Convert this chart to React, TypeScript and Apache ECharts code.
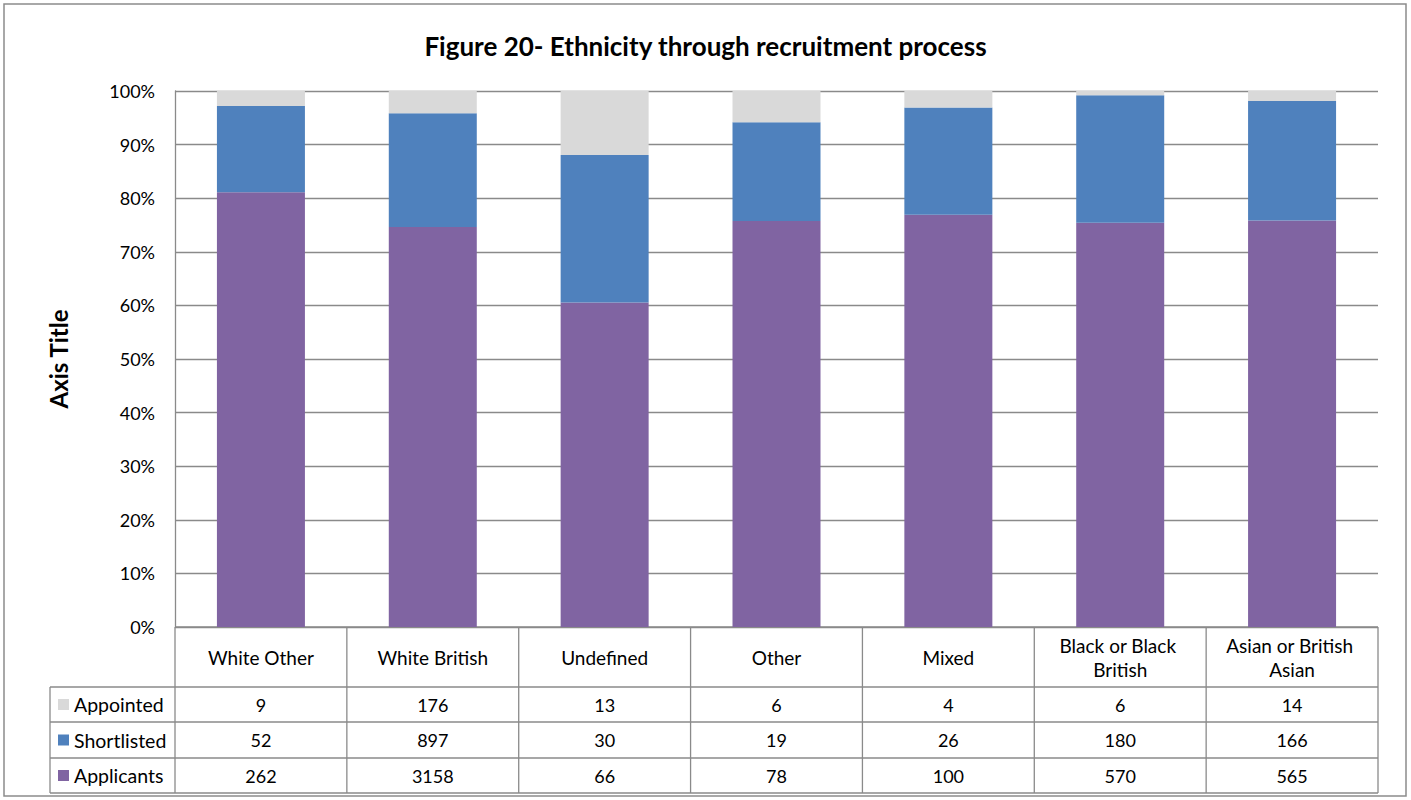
import React, { useEffect, useRef } from "react";
import * as echarts from "echarts";

const categories = [
  "White Other",
  "White British",
  "Undefined",
  "Other",
  "Mixed",
  "Black or Black British",
  "Asian or British Asian",
];
const appointed = [9, 176, 13, 6, 4, 6, 14];
const shortlisted = [52, 897, 30, 19, 26, 180, 166];
const applicants = [262, 3158, 66, 78, 100, 570, 565];

const rowNames = ["Appointed", "Shortlisted", "Applicants"];
const rowColors = ["#D9D9D9", "#4F81BD", "#8064A2"];

const W = 1411;
const H = 800;
const FONT = 'Lato, "Open Sans", sans-serif';

export default function App() {
  const ref = useRef<HTMLDivElement>(null);

  useEffect(() => {
    if (!ref.current) return;
    const chart = echarts.init(ref.current, undefined, { renderer: "svg" });

    const totals = categories.map((_, i) => appointed[i] + shortlisted[i] + applicants[i]);
    const pct = (arr: number[]) => arr.map((v, i) => (v / totals[i]) * 100);

    const gL = 175, gR = 1378, gT = 91, gB = 627;
    const tL = 50;
    const rowLines = [687, 722, 758, 793];
    const catW = (gR - gL) / categories.length;
    const lineColor = "#8A8A8A";

    const rowData = [appointed, shortlisted, applicants];

    const graphics: any[] = [];
    graphics.push({
      type: "rect",
      shape: { x: 4, y: 4, width: W - 9, height: H - 8 },
      style: { fill: "none", stroke: "#8C8C8C", lineWidth: 1.5 },
      silent: true,
    });
    graphics.push({
      type: "line",
      shape: { x1: gL, y1: gB, x2: gR, y2: gB },
      style: { stroke: lineColor, lineWidth: 1.3 },
    });
    rowLines.forEach((y) => {
      graphics.push({
        type: "line",
        shape: { x1: tL, y1: y, x2: gR, y2: y },
        style: { stroke: lineColor, lineWidth: 1.3 },
      });
    });
    graphics.push({
      type: "line",
      shape: { x1: tL, y1: rowLines[0], x2: tL, y2: rowLines[3] },
      style: { stroke: lineColor, lineWidth: 1.3 },
    });
    for (let i = 0; i <= categories.length; i++) {
      const x = gL + i * catW;
      graphics.push({
        type: "line",
        shape: { x1: x, y1: gB, x2: x, y2: rowLines[3] },
        style: { stroke: lineColor, lineWidth: 1.3 },
      });
    }
    rowNames.forEach((name, r) => {
      const yc = (rowLines[r] + rowLines[r + 1]) / 2;
      graphics.push({
        type: "rect",
        shape: { x: 58, y: yc - 5.5, width: 11, height: 11 },
        style: { fill: rowColors[r] },
      });
      graphics.push({
        type: "text",
        x: 74,
        y: yc,
        style: {
          text: name,
          font: `19.5px ${FONT}`,
          fill: "#000",
          align: "left",
          verticalAlign: "middle",
        },
      });
      rowData[r].forEach((v, i) => {
        graphics.push({
          type: "text",
          x: gL + (i + 0.5) * catW,
          y: yc,
          style: {
            text: String(v),
            font: `18px ${FONT}`,
            fill: "#000",
            align: "center",
            verticalAlign: "middle",
          },
        });
      });
    });

    chart.setOption({
      animation: false,
      backgroundColor: "#fff",
      title: {
        text: "Figure 20- Ethnicity through recruitment process",
        left: "center",
        top: 28,
        textStyle: { fontFamily: FONT, fontSize: 26, fontWeight: "bold", color: "#000" },
      },
      grid: { left: gL, right: W - gR, top: gT, bottom: H - gB, containLabel: false },
      xAxis: {
        type: "category",
        data: categories,
        axisLine: { show: false },
        axisTick: { show: false },
        axisLabel: {
          interval: 0,
          margin: 30,
          verticalAlign: "middle",
          width: 160,
          overflow: "break",
          lineHeight: 24,
          fontFamily: FONT,
          fontSize: 19,
          color: "#000",
        },
      },
      yAxis: {
        type: "value",
        min: 0,
        max: 100,
        interval: 10,
        name: "Axis Title",
        nameLocation: "middle",
        nameGap: 105,
        nameTextStyle: { fontFamily: FONT, fontSize: 24, fontWeight: "bold", color: "#000" },
        axisLine: { show: true, lineStyle: { color: lineColor, width: 1.3 } },
        axisTick: { show: false },
        axisLabel: {
          formatter: "{value}%",
          margin: 20,
          fontFamily: FONT,
          fontSize: 18,
          color: "#000",
        },
        splitLine: { show: true, lineStyle: { color: lineColor, width: 1.3 } },
      },
      series: [
        {
          name: "Applicants",
          type: "bar",
          stack: "total",
          barWidth: 88,
          data: pct(applicants),
          itemStyle: { color: rowColors[2] },
        },
        {
          name: "Shortlisted",
          type: "bar",
          stack: "total",
          barWidth: 88,
          data: pct(shortlisted),
          itemStyle: { color: rowColors[1] },
        },
        {
          name: "Appointed",
          type: "bar",
          stack: "total",
          barWidth: 88,
          data: pct(appointed),
          itemStyle: { color: rowColors[0] },
        },
      ],
      graphic: graphics,
    });

    return () => chart.dispose();
  }, []);

  return (
    <div
      ref={ref}
      style={{ position: "fixed", left: 0, top: 0, width: W, height: H, background: "#fff" }}
    />
  );
}
